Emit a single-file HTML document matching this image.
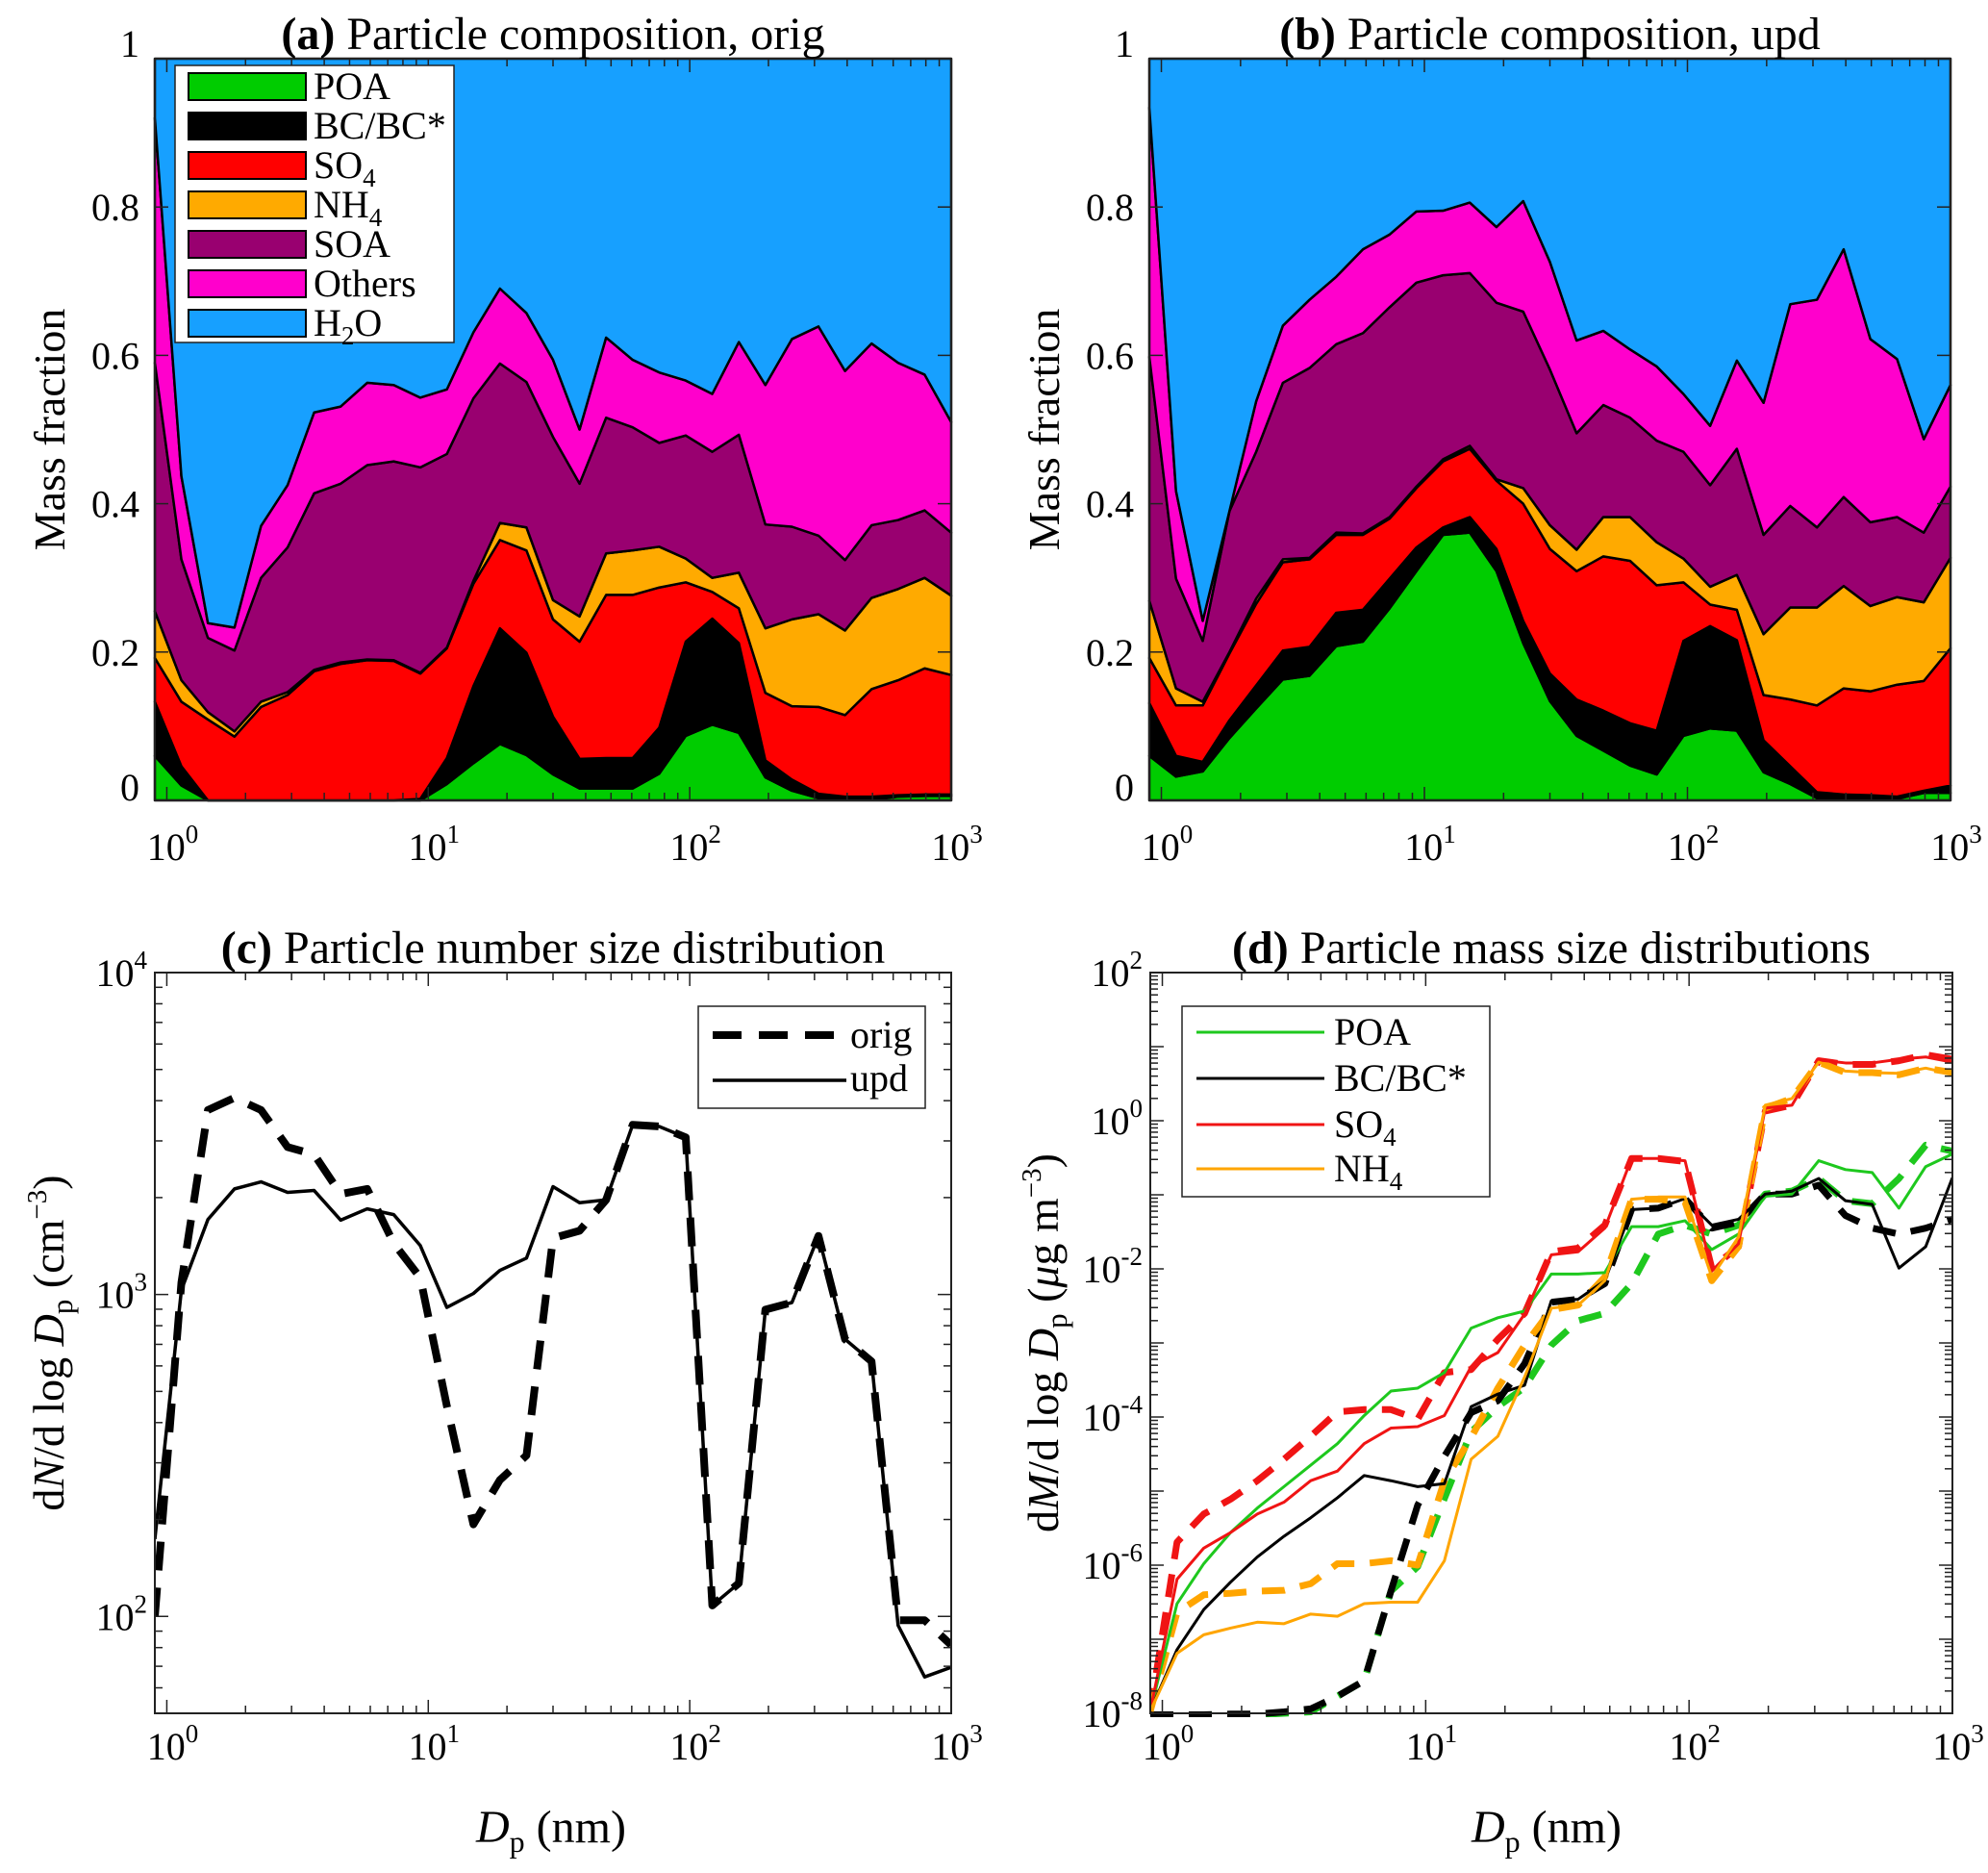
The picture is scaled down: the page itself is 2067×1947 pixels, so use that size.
<!DOCTYPE html>
<html><head><meta charset="utf-8"><style>
html,body{margin:0;padding:0;background:#fff;}
svg{display:block;font-family:"Liberation Serif",serif;}
</style></head><body>
<svg id="fig" width="2067" height="1947" viewBox="0 0 2067 1947" xmlns="http://www.w3.org/2000/svg"></svg>
<script>
// ---------- DATA ----------
const sizeBinsCount = 31;
const dpMin = 0.9, dpMax = 1000;
const origPOA    = [0.06,0.02,0,0,0,0,0,0,0,0,0,0.022,0.05,0.076,0.061,0.035,0.016,0.016,0.016,0.036,0.087,0.102,0.091,0.031,0.013,0.003,0.001,0.001,0.005,0.006,0.006];
const origBC     = [0.133,0.046,0,0,0,0,0,0,0,0,0.002,0.057,0.154,0.232,0.199,0.113,0.056,0.057,0.057,0.098,0.214,0.245,0.212,0.054,0.028,0.009,0.005,0.005,0.007,0.008,0.008];
const origSO4    = [0.192,0.133,0.109,0.086,0.126,0.142,0.174,0.184,0.189,0.188,0.171,0.205,0.292,0.351,0.337,0.244,0.214,0.277,0.277,0.287,0.294,0.281,0.259,0.145,0.127,0.126,0.115,0.15,0.162,0.178,0.169];
const origNH4    = [0.255,0.162,0.119,0.093,0.133,0.146,0.176,0.186,0.19,0.189,0.172,0.206,0.296,0.374,0.368,0.27,0.248,0.333,0.337,0.342,0.326,0.30,0.307,0.232,0.244,0.251,0.229,0.273,0.285,0.30,0.276];
const origSOA    = [0.59,0.325,0.219,0.202,0.30,0.341,0.414,0.427,0.452,0.457,0.449,0.467,0.542,0.589,0.564,0.49,0.427,0.516,0.503,0.482,0.492,0.47,0.493,0.372,0.369,0.357,0.324,0.371,0.378,0.391,0.361];
const origOthers = [0.92,0.437,0.239,0.233,0.37,0.425,0.523,0.531,0.563,0.56,0.543,0.554,0.631,0.69,0.657,0.594,0.50,0.624,0.594,0.577,0.566,0.548,0.618,0.56,0.622,0.639,0.579,0.616,0.59,0.574,0.51];
const updPOA    = [0.06,0.032,0.039,0.084,0.124,0.163,0.168,0.208,0.214,0.259,0.309,0.358,0.361,0.309,0.212,0.134,0.087,0.067,0.047,0.035,0.087,0.097,0.094,0.038,0.022,0.003,0.002,0.002,0.002,0.01,0.01];
const updBC     = [0.131,0.06,0.052,0.108,0.155,0.202,0.207,0.253,0.257,0.299,0.341,0.368,0.382,0.339,0.242,0.171,0.136,0.121,0.104,0.094,0.215,0.235,0.216,0.081,0.046,0.011,0.008,0.007,0.005,0.013,0.02];
const updSO4    = [0.192,0.128,0.128,0.198,0.265,0.321,0.325,0.358,0.358,0.38,0.421,0.457,0.474,0.431,0.40,0.339,0.309,0.329,0.323,0.29,0.294,0.264,0.257,0.142,0.136,0.128,0.151,0.147,0.156,0.161,0.205];
const updNH4    = [0.269,0.151,0.133,0.20,0.272,0.325,0.327,0.361,0.36,0.382,0.423,0.46,0.478,0.433,0.421,0.371,0.338,0.382,0.382,0.348,0.326,0.288,0.304,0.224,0.26,0.26,0.289,0.262,0.274,0.267,0.327];
const updSOA    = [0.598,0.299,0.215,0.39,0.47,0.563,0.583,0.615,0.63,0.665,0.698,0.708,0.711,0.671,0.659,0.581,0.495,0.533,0.516,0.485,0.47,0.425,0.474,0.358,0.397,0.368,0.409,0.375,0.382,0.361,0.423];
const updOthers = [0.934,0.417,0.242,0.39,0.538,0.64,0.675,0.706,0.743,0.763,0.794,0.795,0.806,0.773,0.808,0.726,0.62,0.633,0.608,0.585,0.548,0.505,0.593,0.536,0.669,0.675,0.743,0.622,0.595,0.487,0.56];
const numOrigLog = [2.0,3.037,3.573,3.611,3.573,3.458,3.435,3.312,3.328,3.159,3.052,2.654,2.286,2.424,2.5,3.175,3.198,3.294,3.527,3.522,3.488,2.034,2.103,2.953,2.975,3.182,2.861,2.792,1.988,1.988,1.911];
const numUpdLog  = [2.24,3.014,3.233,3.328,3.35,3.317,3.323,3.231,3.266,3.248,3.152,2.96,3.003,3.075,3.113,3.335,3.285,3.294,3.527,3.522,3.488,2.034,2.103,2.953,2.975,3.182,2.861,2.792,1.972,1.812,1.842];
const poaUpdLog  = [-7.97,-6.52,-5.98,-5.56,-5.23,-4.94,-4.65,-4.36,-3.98,-3.65,-3.61,-3.40,-2.80,-2.66,-2.57,-2.07,-2.07,-2.05,-1.43,-1.43,-1.35,-1.74,-1.53,-1.02,-0.99,-0.54,-0.66,-0.70,-1.18,-0.62,-0.45];
const poaOrigLog = [-8.02,-8.02,-8.02,-8.02,-8.02,-8.0,-7.98,-7.77,-7.56,-6.35,-6.02,-5.1,-4.2,-3.86,-3.6,-3.03,-2.7,-2.6,-2.2,-1.53,-1.41,-1.53,-1.41,-0.99,-0.95,-0.78,-1.08,-1.12,-0.78,-0.33,-0.41];
const bcUpdLog   = [-7.97,-7.14,-6.6,-6.23,-5.89,-5.61,-5.36,-5.09,-4.79,-4.86,-4.94,-4.9,-3.86,-3.69,-3.57,-2.43,-2.41,-2.16,-1.2,-1.18,-1.05,-1.41,-1.33,-0.99,-0.95,-0.78,-1.08,-1.13,-1.99,-1.70,-0.77];
const bcOrigLog  = [-8.02,-8.02,-8.02,-8.01,-8.01,-7.98,-7.94,-7.77,-7.56,-6.35,-5.19,-4.53,-3.94,-3.78,-3.28,-2.45,-2.41,-2.2,-1.2,-1.18,-1.05,-1.45,-1.37,-0.99,-0.99,-0.87,-1.28,-1.45,-1.53,-1.45,-1.33];
const so4UpdLog  = [-7.97,-6.19,-5.77,-5.56,-5.31,-5.15,-4.86,-4.73,-4.36,-4.15,-4.13,-3.98,-3.32,-3.13,-2.61,-1.81,-1.77,-1.45,-0.51,-0.51,-0.54,-2.03,-1.66,0.17,0.21,0.82,0.78,0.78,0.83,0.86,0.79];
const so4OrigLog = [-7.97,-5.69,-5.31,-5.11,-4.86,-4.57,-4.26,-3.93,-3.9,-3.9,-4.03,-3.4,-3.36,-2.95,-2.6,-1.77,-1.72,-1.41,-0.51,-0.51,-0.55,-1.99,-1.7,0.13,0.21,0.81,0.76,0.76,0.81,0.89,0.83];
const nh4UpdLog  = [-7.97,-7.19,-6.94,-6.85,-6.77,-6.79,-6.66,-6.69,-6.52,-6.5,-6.5,-5.94,-4.57,-4.26,-3.46,-2.53,-2.49,-2.16,-1.06,-1.03,-1.03,-2.11,-1.57,0.21,0.30,0.79,0.67,0.65,0.64,0.71,0.63];
const nh4OrigLog = [-7.97,-6.64,-6.4,-6.38,-6.35,-6.34,-6.25,-5.98,-5.98,-5.94,-6.0,-4.86,-4.28,-3.61,-3.03,-2.55,-2.49,-2.11,-1.06,-1.06,-1.1,-2.16,-1.7,0.17,0.30,0.79,0.65,0.65,0.62,0.71,0.65];
const compLabels = ["POA","BC/BC*","SO4","NH4","SOA","Others","H2O"];
const yTicksFrac = [0,0.2,0.4,0.6,0.8,1];
const yTickFracLabels = ["0","0.2","0.4","0.6","0.8","1"];
const xTickExps = [0,1,2,3];

// ---------- HELPERS ----------
const NS="http://www.w3.org/2000/svg";
const svg=document.getElementById('fig');
function el(tag,attrs,parent){const e=document.createElementNS(NS,tag);for(const k in attrs)e.setAttribute(k,attrs[k]);(parent||svg).appendChild(e);return e;}
const dp=[];for(let i=0;i<sizeBinsCount;i++)dp.push(dpMin*Math.pow(dpMax/dpMin,i/(sizeBinsCount-1)));
function makeAxes(L,R,T,B,yMin,yMax){
  const lx0=Math.log10(dpMin),lx1=Math.log10(dpMax);
  return {L,R,T,B,
    x:v=>L+(Math.log10(v)-lx0)/(lx1-lx0)*(R-L),
    y:v=>B-(v-yMin)/(yMax-yMin)*(B-T)};
}
const COL={poa:"#00cc00",bc:"#000000",so4:"#ff0000",nh4:"#ffaa00",soa:"#990070",oth:"#ff00cc",h2o:"#17a0ff"};
const FS=40, SUP=27;

function xTicks(ax,g,off){
  for(let d=0;d<=3;d++){for(let m=1;m<10;m++){const v=m*Math.pow(10,d);if(v<dpMin||v>dpMax)continue;
    const X=ax.x(v);const len=m===1?14:8;
    el('line',{x1:X,y1:ax.B,x2:X,y2:ax.B-len,stroke:'#222','stroke-width':1.5},g);
    el('line',{x1:X,y1:ax.T,x2:X,y2:ax.T+len,stroke:'#222','stroke-width':1.5},g);}}
  xTickExps.forEach(e=>{const X=ax.x(Math.pow(10,e));
    const t=el('text',{x:X+6,y:ax.B+off,'font-size':FS,'text-anchor':'middle'},g);
    
    
    t.innerHTML='10<tspan dy="-18" font-size="'+SUP+'">'+e+'</tspan>';});
}
function yLogTicks(ax,g,eMin,eMax,labelExps){
  for(let e=Math.floor(eMin);e<=eMax;e++){for(let m=1;m<10;m++){const lv=e+Math.log10(m);if(lv<eMin-1e-9||lv>eMax+1e-9)continue;
    const Y=ax.y(lv);const len=m===1?14:8;
    el('line',{x1:ax.L,y1:Y,x2:ax.L+len,y2:Y,stroke:'#222','stroke-width':1.5},g);
    el('line',{x1:ax.R,y1:Y,x2:ax.R-len,y2:Y,stroke:'#222','stroke-width':1.5},g);}}
  labelExps.forEach(e=>{const Y=ax.y(e);
    const t=el('text',{x:ax.L-8,y:Y+14,'font-size':FS,'text-anchor':'end'},g);
    
    
    t.innerHTML='10<tspan dy="-18" font-size="'+SUP+'">'+e+'</tspan>';});
}
function title(ax,bold,rest,g){
  const t=el('text',{x:(ax.L+ax.R)/2,y:ax.T-10,'font-size':48,'text-anchor':'middle'},g);
  
  
  t.innerHTML='<tspan font-weight="bold">'+bold+'</tspan> '+rest;
}
function ylabel(cx,cy,html,g){
  const t=el('text',{x:cx,y:cy,'font-size':46,'text-anchor':'middle',transform:'rotate(-90 '+cx+' '+cy+')'},g);
  
  
  t.innerHTML=html;
}
function xlabel(cx,cy,g){
  const t=el('text',{x:cx,y:cy,'font-size':48,'text-anchor':'middle'},g);
  
  
  t.innerHTML='<tspan font-style="italic">D</tspan><tspan dy="10" font-size="32">p</tspan><tspan dy="-10"> (nm)</tspan>';
}

// ---------- STACKED PANELS ----------
function stacked(L,R,T,B,layers,bold,rest,id,withLegend){
  const g=el('g',{});
  
  
  const ax=makeAxes(L,R,T,B,0,1);
  const cols=[COL.poa,COL.bc,COL.so4,COL.nh4,COL.soa,COL.oth,COL.h2o];
  const ones=dp.map(()=>1);
  const tops=layers.concat([ones]);
  let lower=dp.map(()=>0);
  tops.forEach((top,k)=>{
    let pts=dp.map((d,i)=>ax.x(d)+','+ax.y(top[i]));
    for(let i=dp.length-1;i>=0;i--)pts.push(ax.x(dp[i])+','+ax.y(lower[i]));
    const p=el('polygon',{points:pts.join(' '),fill:cols[k],stroke:'#000','stroke-width':2.5,'stroke-linejoin':'round'},g);
    
    
    lower=top;
  });
  el('rect',{x:L,y:T,width:R-L,height:B-T,fill:'none',stroke:'#222','stroke-width':2},g);
  xTicks(ax,g,62);
  yTicksFrac.forEach((v,i)=>{const Y=ax.y(v);
    el('line',{x1:L,y1:Y,x2:L+14,y2:Y,stroke:'#222','stroke-width':1.5},g);
    el('line',{x1:R,y1:Y,x2:R-14,y2:Y,stroke:'#222','stroke-width':1.5},g);
    const t=el('text',{x:L-16,y:Y+(v===1?-2:v===0?0:14),'font-size':FS,'text-anchor':'end'},g);
    
    
    t.textContent=yTickFracLabels[i];});
  title(ax,bold,rest,g);
  ylabel(L-94,(T+B)/2,'Mass fraction',g);
  if(withLegend){
    const lg=el('g',{},g);
    
    
    el('rect',{x:182,y:68,width:290,height:288,fill:'#fff',stroke:'#222','stroke-width':1.5},lg);
    const names=['POA','BC/BC*','SO<tspan dy="9" font-size="27">4</tspan>','NH<tspan dy="9" font-size="27">4</tspan>','SOA','Others','H<tspan dy="9" font-size="27">2</tspan><tspan dy="-9">O</tspan>'];
    names.forEach((n,k)=>{const cy=90+k*41;
      const e=el('g',{},lg);
      
      
      el('rect',{x:196,y:cy-14,width:122,height:28,fill:cols[k],stroke:'#000','stroke-width':2},e);
      const t=el('text',{x:326,y:cy+13,'font-size':FS},e);t.innerHTML=n;});
  }
}
stacked(161,989,61,832,[origPOA,origBC,origSO4,origNH4,origSOA,origOthers],'(a)','Particle composition, orig','a',true);
stacked(1195,2028,61,832,[updPOA,updBC,updSO4,updNH4,updSOA,updOthers],'(b)','Particle composition, upd','b',false);

// ---------- PANEL C ----------
(function(){
  const g=el('g',{});
  
  
  const ax=makeAxes(161,989,1011,1781,Math.log10(50),4);
  const cp=el('clipPath',{id:'clipc'},g);el('rect',{x:161,y:1011,width:828,height:770},cp);
  const pl=(arr,dash,w,name)=>{const p=el('polyline',{points:dp.map((d,i)=>ax.x(d)+','+ax.y(arr[i])).join(' '),fill:'none',stroke:'#000','stroke-width':w,'stroke-dasharray':dash,'clip-path':'url(#clipc)','stroke-linejoin':'round'},g);
    
    };
  pl(numOrigLog,'30,18',8,'line-orig');
  pl(numUpdLog,'none',3.5,'line-upd');
  el('rect',{x:161,y:1011,width:828,height:770,fill:'none',stroke:'#222','stroke-width':2},g);
  xTicks(ax,g,48);
  yLogTicks(ax,g,Math.log10(50),4,[2,3,4]);
  title(ax,'(c)','Particle number size distribution',g);
  ylabel(66,1396,'d<tspan font-style="italic">N</tspan>/d log <tspan font-style="italic">D</tspan><tspan dy="9" font-size="31">p</tspan><tspan dy="-9"> (cm</tspan><tspan dy="-18" font-size="29">−3</tspan><tspan dy="18">)</tspan>',g);
  xlabel(573,1915,g);
  const lg=el('g',{},g);
  
  
  el('rect',{x:726,y:1046,width:236,height:106,fill:'#fff',stroke:'#222','stroke-width':1.5},lg);
  el('line',{x1:741,y1:1076,x2:880,y2:1076,stroke:'#000','stroke-width':8,'stroke-dasharray':'30,18'},lg);
  el('line',{x1:741,y1:1123,x2:880,y2:1123,stroke:'#000','stroke-width':3.5},lg);
  let t=el('text',{x:884,y:1089,'font-size':FS},lg);t.textContent='orig';
  t=el('text',{x:884,y:1134,'font-size':FS},lg);t.textContent='upd';
})();

// ---------- PANEL D ----------
(function(){
  const g=el('g',{});
  
  
  const ax=makeAxes(1196,2030,1011,1781,-8,2);
  const cp=el('clipPath',{id:'clipd'},g);el('rect',{x:1196,y:1005,width:834,height:780},cp);
  const pl=(arr,col,dash,w,name)=>{const p=el('polyline',{points:dp.map((d,i)=>ax.x(d)+','+ax.y(arr[i])).join(' '),fill:'none',stroke:col,'stroke-width':w,'stroke-dasharray':dash,'clip-path':'url(#clipd)','stroke-linejoin':'round'},g);
    
    };
  const gr="#1ec81e",rd="#f01414",or="#ffa500";
  pl(poaOrigLog,gr,'24,16',7,'line-poa-orig');
  pl(bcOrigLog,'#000','24,16',7,'line-bc-orig');
  pl(so4OrigLog,rd,'24,16',7,'line-so4-orig');
  pl(nh4OrigLog,or,'24,16',7,'line-nh4-orig');
  pl(poaUpdLog,gr,'none',3,'line-poa-upd');
  pl(bcUpdLog,'#000','none',3,'line-bc-upd');
  pl(so4UpdLog,rd,'none',3,'line-so4-upd');
  pl(nh4UpdLog,or,'none',3,'line-nh4-upd');
  el('rect',{x:1196,y:1011,width:834,height:770,fill:'none',stroke:'#222','stroke-width':2},g);
  xTicks(ax,g,48);
  yLogTicks(ax,g,-8,2,[-8,-6,-4,-2,0,2]);
  title(ax,'(d)','Particle mass size distributions',g);
  ylabel(1100,1396,'d<tspan font-style="italic">M</tspan>/d log <tspan font-style="italic">D</tspan><tspan dy="9" font-size="31">p</tspan><tspan dy="-9"> (</tspan><tspan font-style="italic">μ</tspan>g m<tspan dy="-18" font-size="29">−3</tspan><tspan dy="18">)</tspan>',g);
  xlabel(1608,1915,g);
  const lg=el('g',{},g);
  
  
  el('rect',{x:1229,y:1046,width:320,height:198,fill:'#fff',stroke:'#222','stroke-width':1.5},lg);
  const cols=[gr,'#000',rd,or];
  const nm=['POA','BC/BC*','SO<tspan dy="9" font-size="27">4</tspan>','NH<tspan dy="9" font-size="27">4</tspan>'];
  [1073,1121,1169,1215].forEach((cy,k)=>{
    const e=el('g',{},lg);
    
    
    el('line',{x1:1244,y1:cy,x2:1377,y2:cy,stroke:cols[k],'stroke-width':3},e);
    const t=el('text',{x:1387,y:cy+13,'font-size':FS},e);t.innerHTML=nm[k];});
})();
</script>
</body></html>
